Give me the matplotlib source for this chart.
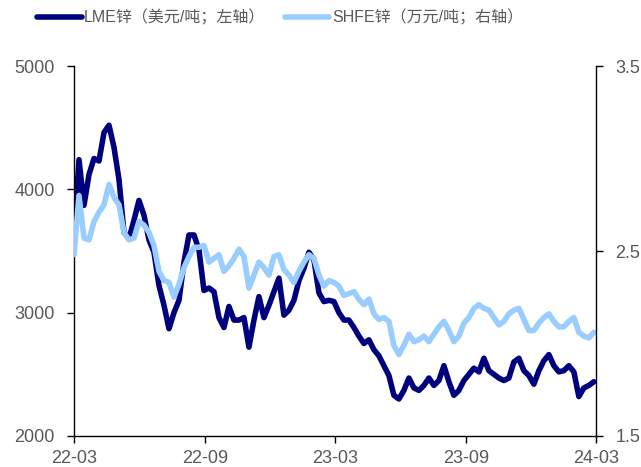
import matplotlib
matplotlib.use("Agg")
import matplotlib.pyplot as plt
import pandas as pd

plt.rcParams['font.family'] = ['Liberation Sans', 'Noto Sans CJK SC', 'DejaVu Sans']

# Weekly observations from 2022-03-01
start_date = "2022-03-01"

lme_zinc = [
    3630, 4240, 3870, 4120, 4250, 4230, 4460, 4520, 4340, 4080,
    3650, 3600, 3750, 3910, 3790, 3590, 3490, 3220, 3060, 2870,
    3000, 3100, 3410, 3630, 3630, 3510, 3180, 3200, 3170, 2960,
    2880, 3050, 2940, 2940, 2960, 2720, 2940, 3130, 2960, 3060,
    3170, 3280, 2980, 3020, 3100, 3260, 3360, 3490, 3430, 3160,
    3090, 3100, 3090, 3000, 2940, 2940, 2880, 2810, 2750, 2780,
    2700, 2650, 2570, 2490, 2330, 2300, 2370, 2470, 2390, 2370,
    2410, 2470, 2410, 2450, 2570, 2440, 2330, 2370, 2450, 2500,
    2550, 2520, 2630, 2530, 2500, 2470, 2450, 2470, 2600, 2630,
    2530, 2490, 2420, 2530, 2610, 2660, 2570, 2520, 2530, 2570,
    2520, 2320, 2390, 2410, 2440,
]

shfe_zinc = [
    2.48, 2.80, 2.57, 2.56, 2.66, 2.71, 2.75, 2.86, 2.79, 2.75,
    2.60, 2.56, 2.57, 2.66, 2.64, 2.60, 2.53, 2.39, 2.34, 2.33,
    2.25, 2.32, 2.41, 2.47, 2.52, 2.52, 2.53, 2.44, 2.46, 2.48,
    2.39, 2.42, 2.46, 2.51, 2.47, 2.30, 2.37, 2.44, 2.41, 2.37,
    2.47, 2.48, 2.40, 2.37, 2.33, 2.39, 2.44, 2.48, 2.46, 2.37,
    2.31, 2.34, 2.33, 2.31, 2.26, 2.27, 2.28, 2.24, 2.21, 2.24,
    2.16, 2.13, 2.14, 2.12, 1.99, 1.94, 1.99, 2.05, 2.01, 2.02,
    2.04, 2.01, 2.05, 2.09, 2.12, 2.07, 2.01, 2.04, 2.11, 2.14,
    2.19, 2.21, 2.19, 2.18, 2.14, 2.10, 2.12, 2.16, 2.18, 2.19,
    2.13, 2.07, 2.07, 2.11, 2.14, 2.16, 2.12, 2.09, 2.09, 2.12,
    2.14, 2.06, 2.04, 2.03, 2.06,
]

x_ticks = ["2022-03-01", "2022-09-01", "2023-03-01", "2023-09-01", "2024-03-01"]
x_labels = ["22-03", "22-09", "23-03", "23-09", "24-03"]
left_ticks = [2000, 3000, 4000, 5000]
right_ticks = [1.5, 2.5, 3.5]

labels = ["LME锌（美元/吨；左轴）", "SHFE锌（万元/吨；右轴）"]

dates = pd.date_range(start_date, periods=len(lme_zinc), freq="7D")

DARK = "#00007F"
LIGHT = "#99CCFF"
TXT = "#595959"

W, H = 641, 467
fig = plt.figure(figsize=(W / 100, H / 100), dpi=100)
ax = fig.add_axes([74 / W, 1 - 436 / H, (596 - 74) / W, (436 - 66) / H])
ax2 = ax.twinx()

l1, = ax.plot(dates, lme_zinc, color=DARK, lw=4, solid_joinstyle="round", solid_capstyle="round")
l2, = ax2.plot(dates, shfe_zinc, color=LIGHT, lw=4, solid_joinstyle="round", solid_capstyle="round")

ax.set_ylim(2000, 5000)
ax2.set_ylim(1.5, 3.5)
ax.set_yticks(left_ticks)
ax2.set_yticks(right_ticks)
ax2.set_yticklabels([f"{v:g}" for v in right_ticks])

xt = pd.to_datetime(x_ticks)
ax.set_xlim(xt[0], xt[-1])
ax.set_xticks(xt)
ax.set_xticklabels(x_labels)

for a in (ax, ax2):
    a.spines["top"].set_visible(False)
    for s in ("left", "right", "bottom"):
        a.spines[s].set_color("black")
        a.spines[s].set_linewidth(1.0)
    a.tick_params(axis="y", direction="out", length=5, width=1, color="black",
                  labelsize=13, labelcolor=TXT, pad=9)
    a.tick_params(axis="x", direction="out", length=5, width=1, color="black",
                  labelsize=13, labelcolor=TXT, pad=5)
ax.spines["right"].set_visible(False)
ax2.spines["left"].set_visible(False)
ax2.spines["bottom"].set_visible(False)

fig.legend([l1, l2], labels, loc="center left", bbox_to_anchor=(37 / W, 1 - 17 / H), ncol=2,
           frameon=False, fontsize=11.5, handlelength=2.8, columnspacing=1.2,
           handletextpad=0.15, borderpad=0, borderaxespad=0, labelcolor=TXT)

fig.savefig("out.png", dpi=100)
